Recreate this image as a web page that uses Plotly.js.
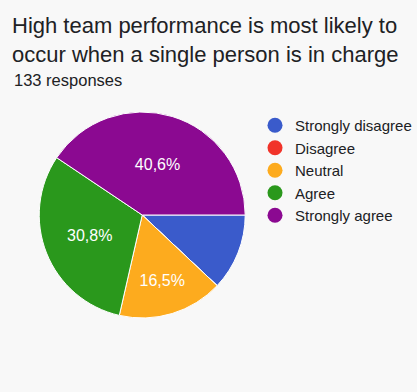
<!DOCTYPE html>
<html>
<head>
<meta charset="utf-8">
<script src="https://cdn.plot.ly/plotly-3.0.1.min.js"></script>
<style>
  html, body { margin: 0; padding: 0; background: #f8f8f8; }
  #chart { width: 417px; height: 392px; }
</style>
</head>
<body>
<div id="chart"></div>
<script>
const titleText = "High team performance is most likely to<br>occur when a single person is in charge";
const subtitleText = "133 responses";
const categories = ["Strongly disagree", "Disagree", "Neutral", "Agree", "Strongly agree"];
const counts = [16, 0, 22, 41, 54];
const colors = ["#3a5bcb", "#f1332a", "#fdab1e", "#2a981c", "#8b0991"];
const showLabel = [false, false, true, true, true];

const FONT = "Liberation Sans, Arial, sans-serif";

const pie = {
  type: "pie",
  labels: categories,
  values: counts,
  sort: false,
  direction: "clockwise",
  rotation: 90,
  marker: { colors: colors, line: { color: "#ffffff", width: 1 } },
  texttemplate: showLabel.map(s => s ? "%{percent:.1%}" : ""),
  textposition: "inside",
  insidetextorientation: "horizontal",
  textfont: { color: "#ffffff", size: 16, family: FONT },
  hoverinfo: "label+percent",
  showlegend: false,
  domain: { x: [40/417, 250/417], y: [72/392, 282/392] }
};

const legendTraces = categories.map((c, i) => ({
  type: "scatter",
  mode: "markers",
  x: [null], y: [null],
  name: c,
  marker: { color: colors[i], size: 15, symbol: "circle" },
  showlegend: true,
  hoverinfo: "skip"
}));

const layout = {
  width: 417, height: 392,
  paper_bgcolor: "#f8f8f8",
  plot_bgcolor: "rgba(0,0,0,0)",
  separators: ",.",
  margin: { l: 0, r: 0, t: 0, b: 0 },
  font: { family: FONT, color: "#202124" },
  title: {
    text: titleText,
    font: { size: 22, family: FONT, color: "#202124" },
    x: 12/417, xanchor: "left", xref: "container",
    y: 1 - 33/392, yanchor: "top", yref: "container"
  },
  annotations: [{
    text: subtitleText,
    xref: "paper", yref: "paper",
    x: 12/417, y: 1 - 69/392,
    xanchor: "left", yanchor: "top",
    showarrow: false,
    font: { size: 16.5, family: FONT, color: "#202124" }
  }],
  xaxis: { visible: false, domain: [0.7, 0.71] },
  yaxis: { visible: false, domain: [0.7, 0.71] },
  showlegend: true,
  legend: {
    x: 260/417, y: 1 - 109/392,
    xanchor: "left", yanchor: "top",
    bgcolor: "rgba(0,0,0,0)",
    font: { size: 15, family: FONT, color: "#202124" }
  }
};

Plotly.newPlot("chart", [pie].concat(legendTraces), layout, { displayModeBar: false, staticPlot: true });
</script>
</body>
</html>
